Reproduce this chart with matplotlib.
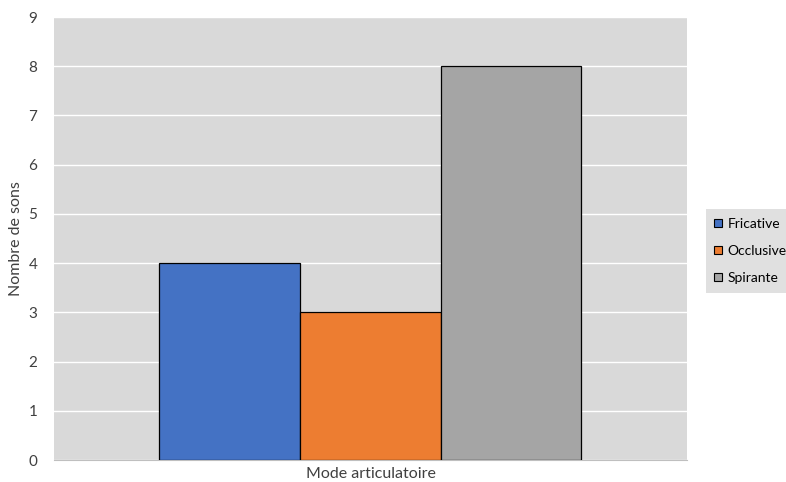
import numpy as np
import matplotlib.pyplot as plt

plt.rcParams['font.family'] = ['Lato', 'DejaVu Sans']

# Données
categorie = 'Mode articulatoire'
modes = ['Fricative', 'Occlusive', 'Spirante']
nombres = [4, 3, 8]
couleurs = ['#4472C4', '#ED7D31', '#A5A5A5']

fig = plt.figure(figsize=(7.86, 4.82), dpi=100)
ax = fig.add_axes([0.0687, 0.0456, 0.8053, 0.9191])
ax.set_facecolor('#D9D9D9')

largeur = 2 / 3
pos = (np.arange(len(modes)) - 1) * largeur
for p, n, c, m in zip(pos, nombres, couleurs, modes):
    ax.bar(p, n, width=largeur, color=c, edgecolor='black', linewidth=0.9,
           label=m, zorder=3)

ax.set_xlim(-1.5, 1.5)
ax.set_ylim(0, 9)
ax.set_yticks(range(0, 10))
ax.set_xticks([0])
ax.set_xticklabels([categorie])
ax.grid(axis='y', color='white', linewidth=1, zorder=0)
ax.tick_params(axis='both', length=0, labelsize=11, colors='#404040')
ax.tick_params(axis='x', labelsize=11.5, pad=5)
ax.tick_params(axis='y', pad=12)

for s in ['top', 'right', 'left']:
    ax.spines[s].set_visible(False)
ax.spines['bottom'].set_color('#BFBFBF')

ax.set_ylabel('Nombre de sons', fontsize=11.5, color='#404040', labelpad=4)

leg = ax.legend(loc='center left', bbox_to_anchor=(1.030, 0.472), frameon=True,
                facecolor='#D9D9D9', edgecolor='#D9D9D9', fancybox=False,
                fontsize=10, handlelength=0.55, handleheight=0.55,
                handletextpad=0.4, labelspacing=1.1, borderpad=0.6,
                borderaxespad=0)
leg.get_frame().set_linewidth(0)
for h in leg.legend_handles:
    h.set_linewidth(0.8)

fig.savefig('out.png', dpi=100)
